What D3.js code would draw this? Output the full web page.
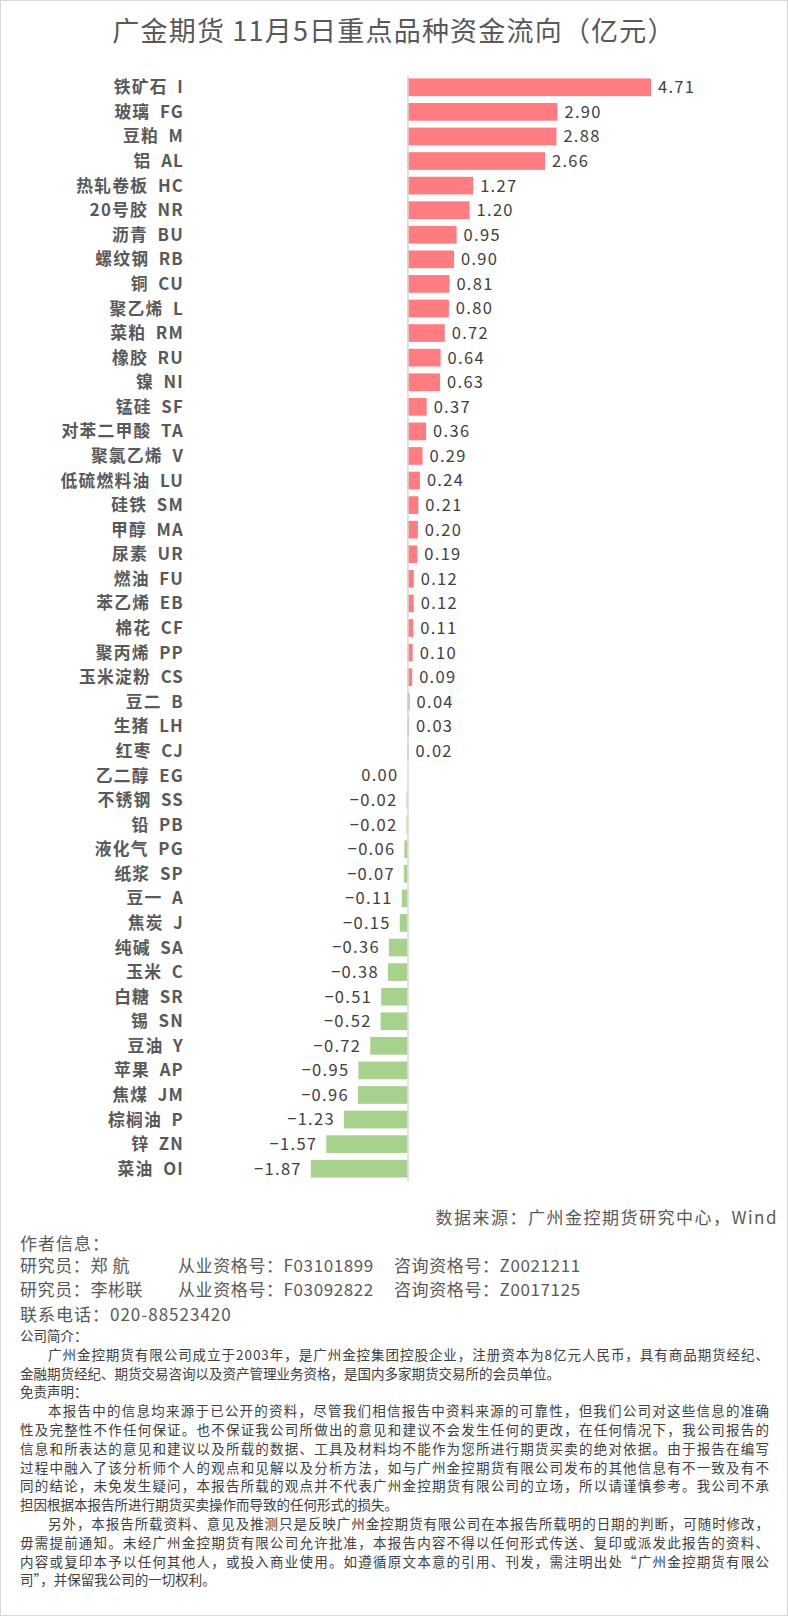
<!DOCTYPE html>
<html>
<head>
<meta charset="utf-8">
<script src="https://cdn.jsdelivr.net/npm/d3@7"></script>
<style>
  html, body { margin: 0; padding: 0; background: #fff; }
  svg { display: block; font-family: "Noto Sans CJK SC", "Noto Sans", sans-serif; }
</style>
</head>
<body>
<svg id="svg1" width="788" height="1616"></svg>
<script>
var names = ["铁矿石","玻璃","豆粕","铝","热轧卷板","20号胶","沥青","螺纹钢","铜","聚乙烯","菜粕","橡胶","镍","锰硅","对苯二甲酸","聚氯乙烯","低硫燃料油","硅铁","甲醇","尿素","燃油","苯乙烯","棉花","聚丙烯","玉米淀粉","豆二","生猪","红枣","乙二醇","不锈钢","铅","液化气","纸浆","豆一","焦炭","纯碱","玉米","白糖","锡","豆油","苹果","焦煤","棕榈油","锌","菜油"];
var codes = ["I","FG","M","AL","HC","NR","BU","RB","CU","L","RM","RU","NI","SF","TA","V","LU","SM","MA","UR","FU","EB","CF","PP","CS","B","LH","CJ","EG","SS","PB","PG","SP","A","J","SA","C","SR","SN","Y","AP","JM","P","ZN","OI"];
var values = [4.71,2.90,2.88,2.66,1.27,1.20,0.95,0.90,0.81,0.80,0.72,0.64,0.63,0.37,0.36,0.29,0.24,0.21,0.20,0.19,0.12,0.12,0.11,0.10,0.09,0.04,0.03,0.02,0.00,-0.02,-0.02,-0.06,-0.07,-0.11,-0.15,-0.36,-0.38,-0.51,-0.52,-0.72,-0.95,-0.96,-1.23,-1.57,-1.87];

var titleText = "广金期货 11月5日重点品种资金流向（亿元）";
var sourceText = "数据来源：广州金控期货研究中心，Wind";

var authorLines = [
    ["研究员：郑 航", "从业资格号：F03101899", "咨询资格号：Z0021211"],
    ["研究员：李彬联", "从业资格号：F03092822", "咨询资格号：Z0017125"]
];
// [text, indented, justified]
var introLines = [
    ["公司简介：", 0, false],
    ["广州金控期货有限公司成立于2003年，是广州金控集团控股企业，注册资本为8亿元人民币，具有商品期货经纪、", 1, true],
    ["金融期货经纪、期货交易咨询以及资产管理业务资格，是国内多家期货交易所的会员单位。", 0, false],
    ["免责声明：", 0, false],
    ["本报告中的信息均来源于已公开的资料，尽管我们相信报告中资料来源的可靠性，但我们公司对这些信息的准确", 1, true],
    ["性及完整性不作任何保证。也不保证我公司所做出的意见和建议不会发生任何的更改，在任何情况下，我公司报告的", 0, true],
    ["信息和所表达的意见和建议以及所载的数据、工具及材料均不能作为您所进行期货买卖的绝对依据。由于报告在编写", 0, true],
    ["过程中融入了该分析师个人的观点和见解以及分析方法，如与广州金控期货有限公司发布的其他信息有不一致及有不", 0, true],
    ["同的结论，未免发生疑问，本报告所载的观点并不代表广州金控期货有限公司的立场，所以请谨慎参考。我公司不承", 0, true],
    ["担因根据本报告所进行期货买卖操作而导致的任何形式的损失。", 0, false],
    ["另外，本报告所载资料、意见及推测只是反映广州金控期货有限公司在本报告所载明的日期的判断，可随时修改，", 1, true],
    ["毋需提前通知。未经广州金控期货有限公司允许批准，本报告内容不得以任何形式传送、复印或派发此报告的资料、", 0, true],
    ["内容或复印本予以任何其他人，或投入商业使用。如遵循原文本意的引用、刊发，需注明出处“广州金控期货有限公", 0, true],
    ["司”，并保留我公司的一切权利。", 0, false]
];

var width = 788;
var height = 1616;

var svg = d3.select('#svg1');

svg.append('rect')
    .attr('x', 0.5).attr('y', 0.5)
    .attr('width', width - 1).attr('height', height - 1)
    .attr('fill', '#fff')
    .attr('stroke', '#d9d9d9');

svg.append('text')
    .attr('x', 394).attr('y', 41)
    .attr('text-anchor', 'middle')
    .attr('font-size', 27)
    .attr('letter-spacing', 1.2)
    .attr('fill', '#595959')
    .text(titleText);

var data = names.map(function (n, i) {
    return {name: n, code: codes[i], value: values[i], key: n + ' ' + codes[i]};
});

var x = d3.scaleLinear().domain([-2, 5]).range([304.1, 666]);
var y = d3.scaleBand()
    .domain(data.map(function (d) { return d.key; }))
    .range([75, 1181])
    .paddingInner(0.28)
    .paddingOuter(0.14);

svg.selectAll('.bar')
    .data(data)
    .enter()
    .append('rect')
    .attr('class', 'bar')
    .attr('x', function (d) { return x(Math.min(0, d.value)); })
    .attr('y', function (d) { return y(d.key); })
    .attr('width', function (d) { return Math.abs(x(d.value) - x(0)); })
    .attr('height', y.bandwidth())
    .attr('fill', function (d) { return d.value > 0 ? '#ff7c80' : '#a9d18e'; });

// zero axis
svg.append('g')
    .attr('transform', 'translate(' + x(0) + ',0)')
    .call(d3.axisLeft(y).tickSize(0).tickFormat(''))
    .call(function (g) {
        g.select('.domain').attr('stroke', '#d9d9d9').attr('stroke-width', 1.5);
    });

var fmt = d3.format('.2f');

svg.selectAll('.val')
    .data(data)
    .enter()
    .append('text')
    .attr('class', 'val')
    .attr('x', function (d) { return d.value > 0 ? x(d.value) + 7 : x(Math.min(0, d.value)) - 9; })
    .attr('y', function (d) { return y(d.key) + y.bandwidth() / 2; })
    .attr('dy', '0.36em')
    .attr('text-anchor', function (d) { return d.value > 0 ? 'start' : 'end'; })
    .attr('font-size', 16.5)
    .attr('letter-spacing', 1.3)
    .attr('fill', '#404040')
    .text(function (d) { return fmt(d.value); });

svg.selectAll('.cat')
    .data(data)
    .enter()
    .append('text')
    .attr('class', 'cat')
    .attr('x', 184)
    .attr('y', function (d) { return y(d.key) + y.bandwidth() / 2; })
    .attr('dy', '0.36em')
    .attr('text-anchor', 'end')
    .attr('font-size', 16.8)
    .attr('letter-spacing', 1.2)
    .attr('font-weight', 'bold')
    .attr('fill', '#595959')
    .text(function (d) { return d.name + '\u2002' + d.code; });

// source + footer
svg.append('text')
    .attr('x', 778).attr('y', 1224)
    .attr('text-anchor', 'end')
    .attr('font-size', 17)
    .attr('letter-spacing', 1.5)
    .attr('fill', '#595959')
    .text(sourceText);

svg.append('text')
    .attr('x', 20).attr('y', 1250)
    .attr('font-size', 17)
    .attr('letter-spacing', 1)
    .attr('fill', '#595959')
    .text('作者信息：');

var colX = [20, 178, 394];
authorLines.forEach(function (line, i) {
    line.forEach(function (t, j) {
        svg.append('text')
            .attr('x', colX[j]).attr('y', 1272 + i * 24)
            .attr('font-size', 17)
            .attr('letter-spacing', 0.6)
            .attr('fill', '#595959')
            .attr('xml:space', 'preserve')
            .text(t);
    });
});

svg.append('text')
    .attr('x', 20).attr('y', 1321)
    .attr('font-size', 17)
    .attr('letter-spacing', 1)
    .attr('fill', '#595959')
    .text('联系电话：020-88523420');

introLines.forEach(function (l, i) {
    var x0 = l[1] ? 48 : 20;
    var t = svg.append('text')
        .attr('x', x0).attr('y', 1341 + i * 18.8)
        .attr('font-size', 13.5)
        .attr('fill', '#404040')
        .text(l[0]);
    if (l[2]) {
        t.attr('textLength', 769 - x0).attr('lengthAdjust', 'spacing');
    }
});
</script>
</body>
</html>
